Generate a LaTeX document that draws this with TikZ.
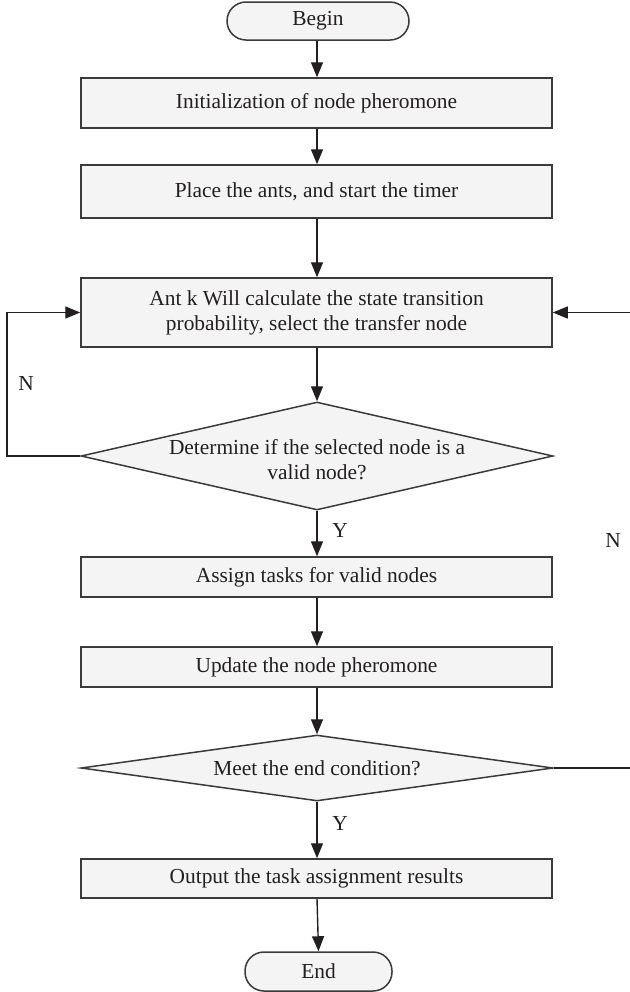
\documentclass[tikz,border=0pt]{standalone}
\usepackage{fontspec}
\setmainfont{Liberation Serif}
\usetikzlibrary{arrows.meta,shapes.geometric}
\definecolor{edge}{HTML}{3A3A3A}
\definecolor{boxfill}{HTML}{F4F4F4}
\definecolor{ink}{HTML}{231F20}
\begin{document}
\begin{tikzpicture}[x=0.5pt,y=-0.5pt,
  every node/.style={text=ink,font=\fontsize{10.7}{12.5}\selectfont},
  stepbox/.style={draw=edge,fill=boxfill,line width=0.75pt,rectangle,
    minimum width=235.5pt,inner sep=0pt,align=center},
  terminal/.style={draw=edge,fill=boxfill,line width=0.75pt,rectangle,
    rounded corners=9.5pt,inner sep=0pt},
  decision/.style={draw=edge,fill=boxfill,line width=0.75pt,diamond,
    inner sep=0pt,minimum width=236pt},
  flow/.style={draw=ink,line width=0.7pt,-{Triangle[length=7.5pt,width=6pt]}},
  tag/.style={inner sep=0pt}]
\useasboundingbox (0,0) rectangle (630,992);

% process chain
\node[terminal,minimum width=91pt,minimum height=19pt] (begin) at (318,21) {\raisebox{-1pt}{Begin}};
\node[stepbox,minimum height=25pt] (init) at (316.5,103) {Initialization of node pheromone};
\node[stepbox,minimum height=26.5pt] (place) at (316.5,191.5) {Place the ants, and start the timer};
\node[stepbox,minimum height=34.5pt] (select) at (316.5,312.5)
  {Ant k Will calculate the state transition\\probability, select the transfer node};
\node[decision,aspect=4.37,minimum height=54pt] (valid) at (317,456) {};
\node[align=center,inner sep=0pt] (validtxt) at (317,459.5)
  {Determine if the selected node is a\\valid node?};
\node[stepbox,minimum height=20pt] (assign) at (316.5,577) {Assign tasks for valid nodes};
\node[stepbox,minimum height=20pt] (update) at (316.5,667) {Update the node pheromone};
\node[decision,aspect=7.15,minimum height=33pt] (stop) at (317,768) {};
\node[inner sep=0pt] (stoptxt) at (317,768) {Meet the end condition?};
\node[stepbox,minimum height=19.5pt] (output) at (316.5,878.5) {Output the task assignment results};
\node[terminal,minimum width=73.5pt,minimum height=19.5pt] (end) at (318.5,971.5) {End};

% main flow
\draw[flow] (begin.south -| 317,0) -- (init.north -| 317,0);
\draw[flow] (init.south -| 317,0) -- (place.north -| 317,0);
\draw[flow] (place.south -| 317,0) -- (select.north -| 317,0);
\draw[flow] (select.south -| 317,0) -- (valid.north);
\draw[flow] (valid.south) -- (assign.north -| 317,0);
\draw[flow] (assign.south -| 317,0) -- (update.north -| 317,0);
\draw[flow] (update.south -| 317,0) -- (stop.north);
\draw[flow] (stop.south) -- (output.north -| 317,0);
\draw[flow] (output.south -| 317,0) -- (end.north);

% loops back to the selection step
\coordinate (leftrail) at (7,456);
\coordinate (rightrail) at (645,768);
\draw[flow] (valid.west) -- (leftrail) |- (select.west);
\draw[flow] (stop.east) -- (rightrail) |- (select.east);

% branch labels
\node[tag] (nleft) at (26,383) {N};
\node[tag] (yvalid) at (340,530) {Y};
\node[tag] (nright) at (613,540) {N};
\node[tag] (ystop) at (340,823) {Y};
\end{tikzpicture}
\end{document}
